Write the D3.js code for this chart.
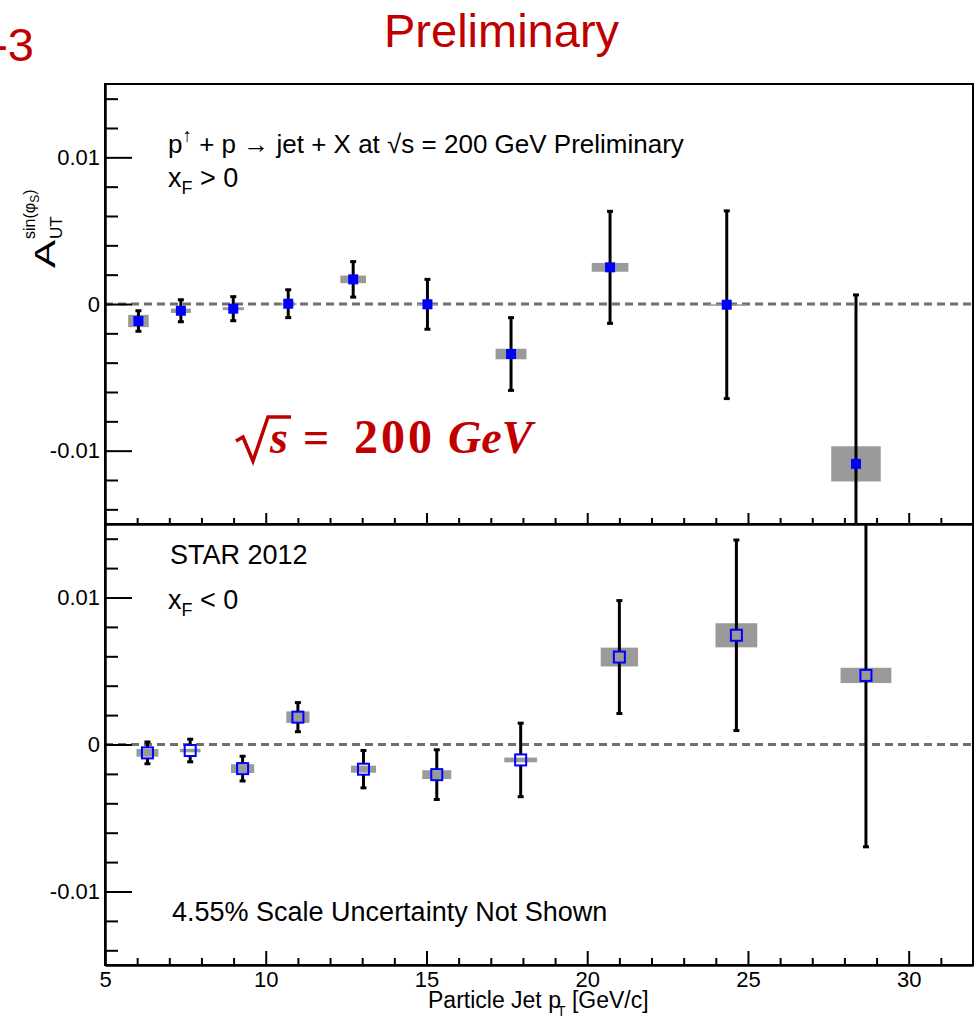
<!DOCTYPE html>
<html>
<head>
<meta charset="utf-8">
<script src="https://cdn.jsdelivr.net/npm/d3@7"></script>
<style>
    body { margin: 0; background: #fff; }
    text { font-family: "Liberation Sans", Arial, Helvetica, sans-serif; }
</style>
</head>
<body>
<div id="chart"></div>
<script>
// ---- data ----
// xF > 0 (filled markers)
const ptFwd   = [6.04, 7.36, 8.99, 10.70, 12.72, 15.03, 17.63, 20.71, 24.34, 28.36];
const aFwd    = [-0.00116, -0.00046, -0.00032, 0.00002, 0.00168, -0.00002, -0.00341, 0.00250, -0.00005, -0.01090];
const statFwd = [0.00070, 0.00075, 0.00082, 0.00095, 0.00121, 0.00170, 0.00248, 0.00382, 0.00640, 0.01152];
const sysFwd  = [0.00042, 0.00015, 0.00010, 0.00003, 0.00026, 0.00003, 0.00036, 0.00030, 0.00003, 0.00120];
const binFwd  = [0.32, 0.31, 0.33, 0.26, 0.40, 0.30, 0.48, 0.57, 0.60, 0.77];

// xF < 0 (open markers)
const ptBwd   = [6.32, 7.65, 9.28, 11.00, 13.04, 15.32, 17.93, 21.00, 24.64, 28.67];
const aBwd    = [-0.00057, -0.00041, -0.00164, 0.00186, -0.00168, -0.00205, -0.00105, 0.00595, 0.00743, 0.00470];
const statBwd = [0.00074, 0.00077, 0.00084, 0.00099, 0.00127, 0.00169, 0.00250, 0.00384, 0.00648, 0.01166];
const sysBwd  = [0.00026, 0.00012, 0.00030, 0.00039, 0.00024, 0.00030, 0.00016, 0.00064, 0.00082, 0.00052];
const binBwd  = [0.34, 0.32, 0.36, 0.36, 0.39, 0.45, 0.51, 0.58, 0.65, 0.79];

// axes
const xDomain = [5, 32];
const yDomain = [-0.015, 0.015];
const xMajor = [5, 10, 15, 20, 25, 30];
const xMinor = d3.range(6, 32).filter(d => d % 5 !== 0);
const yMajor = [-0.01, 0, 0.01];
const yMinor = d3.range(-7, 8).filter(i => i % 5 !== 0).map(i => i * 0.002);

const RED = "#c00000";
const BLUE = "#0000ff";
const SYS_GREY = "#9a9a9a";

const svg = d3.select("#chart").append("svg")
    .attr("width", 977)
    .attr("height", 1018);

function rowsOf(pt, a, stat, sys, bin) {
    return pt.map((p, i) => ({ pt: p, a: a[i], stat: stat[i], sys: sys[i], bin: bin[i] }));
}

/* * * * * * * * * * * * * *
*       ASYM PANEL         *
* * * * * * * * * * * * * */
class AsymPanel {
    constructor(svg, cfg, data) {
        this.svg = svg;
        this.cfg = cfg;
        this.data = data;
        this.initVis();
    }

    initVis() {
        let vis = this;
        vis.left = 105;
        vis.right = 973;

        vis.x = d3.scaleLinear().domain(xDomain).range([vis.left, vis.right]);
        vis.y = d3.scaleLinear().domain(yDomain).range([vis.cfg.bottom, vis.cfg.top]);

        vis.g = vis.svg.append("g");

        vis.g.append("clipPath").attr("id", vis.cfg.id + "-clip")
            .append("rect")
            .attr("x", vis.left).attr("y", vis.cfg.top)
            .attr("width", vis.right - vis.left)
            .attr("height", vis.cfg.bottom - vis.cfg.top);

        vis.plot = vis.g.append("g").attr("clip-path", `url(#${vis.cfg.id}-clip)`);

        vis.updateVis();
    }

    updateVis() {
        let vis = this;
        const half = vis.cfg.open ? 5.5 : 5;

        // zero line
        vis.plot.append("line")
            .attr("x1", vis.left).attr("x2", vis.right)
            .attr("y1", vis.y(0)).attr("y2", vis.y(0))
            .attr("stroke", "#707070")
            .attr("stroke-width", 3)
            .attr("stroke-dasharray", "8,5");

        // systematic boxes
        vis.plot.selectAll(".sys").data(vis.data).enter()
            .append("rect")
            .attr("class", "sys")
            .attr("x", d => vis.x(d.pt - d.bin))
            .attr("width", d => vis.x(d.pt + d.bin) - vis.x(d.pt - d.bin))
            .attr("y", d => vis.y(d.a + d.sys))
            .attr("height", d => Math.max(1.5, vis.y(d.a - d.sys) - vis.y(d.a + d.sys)))
            .attr("fill", SYS_GREY);

        // statistical error bars
        const bars = vis.plot.selectAll(".err").data(vis.data).enter().append("g").attr("class", "err")
            .attr("stroke", "#000").attr("stroke-width", 3);

        if (vis.cfg.open) {
            bars.append("line")
                .attr("x1", d => vis.x(d.pt)).attr("x2", d => vis.x(d.pt))
                .attr("y1", d => vis.y(d.a + d.stat)).attr("y2", d => vis.y(d.a) - half);
            bars.append("line")
                .attr("x1", d => vis.x(d.pt)).attr("x2", d => vis.x(d.pt))
                .attr("y1", d => vis.y(d.a) + half).attr("y2", d => vis.y(d.a - d.stat));
        } else {
            bars.append("line")
                .attr("x1", d => vis.x(d.pt)).attr("x2", d => vis.x(d.pt))
                .attr("y1", d => vis.y(d.a + d.stat)).attr("y2", d => vis.y(d.a - d.stat));
        }
        [1, -1].forEach(s => {
            bars.append("line")
                .attr("x1", d => vis.x(d.pt) - 3).attr("x2", d => vis.x(d.pt) + 3)
                .attr("y1", d => vis.y(d.a + s * d.stat)).attr("y2", d => vis.y(d.a + s * d.stat));
        });

        // markers
        vis.plot.selectAll(".mark").data(vis.data).enter()
            .append("rect")
            .attr("class", "mark")
            .attr("x", d => vis.x(d.pt) - half)
            .attr("y", d => vis.y(d.a) - half)
            .attr("width", half * 2)
            .attr("height", half * 2)
            .attr("fill", vis.cfg.open ? "none" : BLUE)
            .attr("stroke", vis.cfg.open ? BLUE : "none")
            .attr("stroke-width", 2);

        // y axis: minor + major ticks pointing inward
        const yMinorAxis = vis.g.append("g").attr("transform", `translate(${vis.left},0)`)
            .call(d3.axisLeft(vis.y).tickValues(yMinor).tickSizeInner(-13).tickSizeOuter(0).tickFormat(""));
        const yMajorAxis = vis.g.append("g").attr("transform", `translate(${vis.left},0)`)
            .call(d3.axisLeft(vis.y).tickValues(yMajor).tickSizeInner(-27).tickSizeOuter(0)
                .tickPadding(5).tickFormat(d => String(d)));
        yMajorAxis.attr("font-family", null).attr("font-size", 22);

        // x axis along the bottom of the panel
        const xMinorAxis = vis.g.append("g").attr("transform", `translate(0,${vis.cfg.bottom})`)
            .call(d3.axisBottom(vis.x).tickValues(xMinor).tickSizeInner(-vis.cfg.xMinorLen).tickSizeOuter(0).tickFormat(""));
        const xMajorAxis = vis.g.append("g").attr("transform", `translate(0,${vis.cfg.bottom})`)
            .call(d3.axisBottom(vis.x).tickValues(xMajor).tickSizeInner(-vis.cfg.xMajorLen).tickSizeOuter(0)
                .tickPadding(6).tickFormat(vis.cfg.xLabels ? d => String(d) : ""));
        xMajorAxis.attr("font-family", null).attr("font-size", 22);

        [yMinorAxis, yMajorAxis, xMinorAxis, xMajorAxis].forEach(a => {
            a.selectAll("line").attr("stroke-width", 2);
            a.select(".domain").attr("stroke-width", 2);
            a.selectAll("text").attr("fill", "#000");
        });

        // frame
        vis.g.append("rect")
            .attr("x", vis.left).attr("y", vis.cfg.top)
            .attr("width", vis.right - vis.left)
            .attr("height", vis.cfg.bottom - vis.cfg.top)
            .attr("fill", "none")
            .attr("stroke", "#000")
            .attr("stroke-width", 2);
    }
}

new AsymPanel(svg, { id: "fwd", top: 84, bottom: 524, open: false, xLabels: false, xMajorLen: 11, xMinorLen: 6 },
    rowsOf(ptFwd, aFwd, statFwd, sysFwd, binFwd));
new AsymPanel(svg, { id: "bwd", top: 524, bottom: 965, open: true, xLabels: true, xMajorLen: 14, xMinorLen: 7 },
    rowsOf(ptBwd, aBwd, statBwd, sysBwd, binBwd));

// ---- text ----
const txt = svg.append("g").attr("fill", "#000");

// slide header pieces
svg.append("text").attr("x", 34).attr("y", 61).attr("text-anchor", "end")
    .attr("font-size", 47).attr("fill", RED).text("-3");
svg.append("text").attr("x", 384).attr("y", 47)
    .attr("font-size", 47).attr("fill", RED).text("Preliminary");

// top panel labels
let t1 = txt.append("text").attr("x", 168).attr("y", 153).attr("font-size", 26);
t1.append("tspan").text("p");
t1.append("tspan").attr("dy", -11).attr("font-size", 19).text("\u2191");
t1.append("tspan").attr("dy", 11).text(" + p \u2192 jet + X at \u221As = 200 GeV Preliminary");

let t2 = txt.append("text").attr("x", 168).attr("y", 187).attr("font-size", 27);
t2.append("tspan").text("x");
t2.append("tspan").attr("dy", 7).attr("font-size", 18).text("F");
t2.append("tspan").attr("dy", -7).text(" > 0");

// bottom panel labels
txt.append("text").attr("x", 170).attr("y", 564).attr("font-size", 27).text("STAR 2012");
let t3 = txt.append("text").attr("x", 168).attr("y", 609).attr("font-size", 27);
t3.append("tspan").text("x");
t3.append("tspan").attr("dy", 7).attr("font-size", 18).text("F");
t3.append("tspan").attr("dy", -7).text(" < 0");
txt.append("text").attr("x", 172).attr("y", 921).attr("font-size", 27)
    .text("4.55% Scale Uncertainty Not Shown");

// x axis title
let xt = txt.append("text").attr("x", 428).attr("y", 1008).attr("font-size", 23);
xt.append("tspan").text("Particle Jet p");
xt.append("tspan").attr("dx", -4).attr("dy", 8).attr("font-size", 14).text("T");
xt.append("tspan").attr("dy", -8).text(" [GeV/c]");

// y axis title (rotated)
let yt = txt.append("g").attr("transform", "translate(55,268) rotate(-90)");
let yA = yt.append("text").attr("x", 0).attr("y", 0).attr("font-size", 30)
    .attr("transform", "scale(1.4,1)").text("A");
let aLen = yA.node().getComputedTextLength() * 1.4;
yt.append("text").attr("x", aLen + 1).attr("y", 7).attr("font-size", 17).text("UT");
let ys = yt.append("text").attr("x", aLen + 1).attr("y", -20).attr("font-size", 16);
ys.append("tspan").text("sin(\u03C6");
ys.append("tspan").attr("dy", 4).attr("font-size", 12).text("S");
ys.append("tspan").attr("dy", -4).text(")");

// red sqrt(s) annotation
svg.append("path")
    .attr("d", "M236,441 L243,437 L253,461 L268,417 L291,417")
    .attr("fill", "none")
    .attr("stroke", RED)
    .attr("stroke-width", 3.5)
    .attr("stroke-linejoin", "miter");
let rs = svg.append("text").attr("y", 453).attr("font-size", 46).attr("fill", RED)
    .attr("font-weight", "bold")
    .style("font-family", "'Liberation Serif', 'DejaVu Serif', serif");
rs.append("tspan").attr("x", 270).attr("font-style", "italic").text("s");
rs.append("tspan").attr("x", 303).text("=");
rs.append("tspan").attr("x", 354).attr("font-size", 48).attr("letter-spacing", 3).text("200");
rs.append("tspan").attr("x", 448).attr("font-style", "italic").text("GeV");
</script>
</body>
</html>
